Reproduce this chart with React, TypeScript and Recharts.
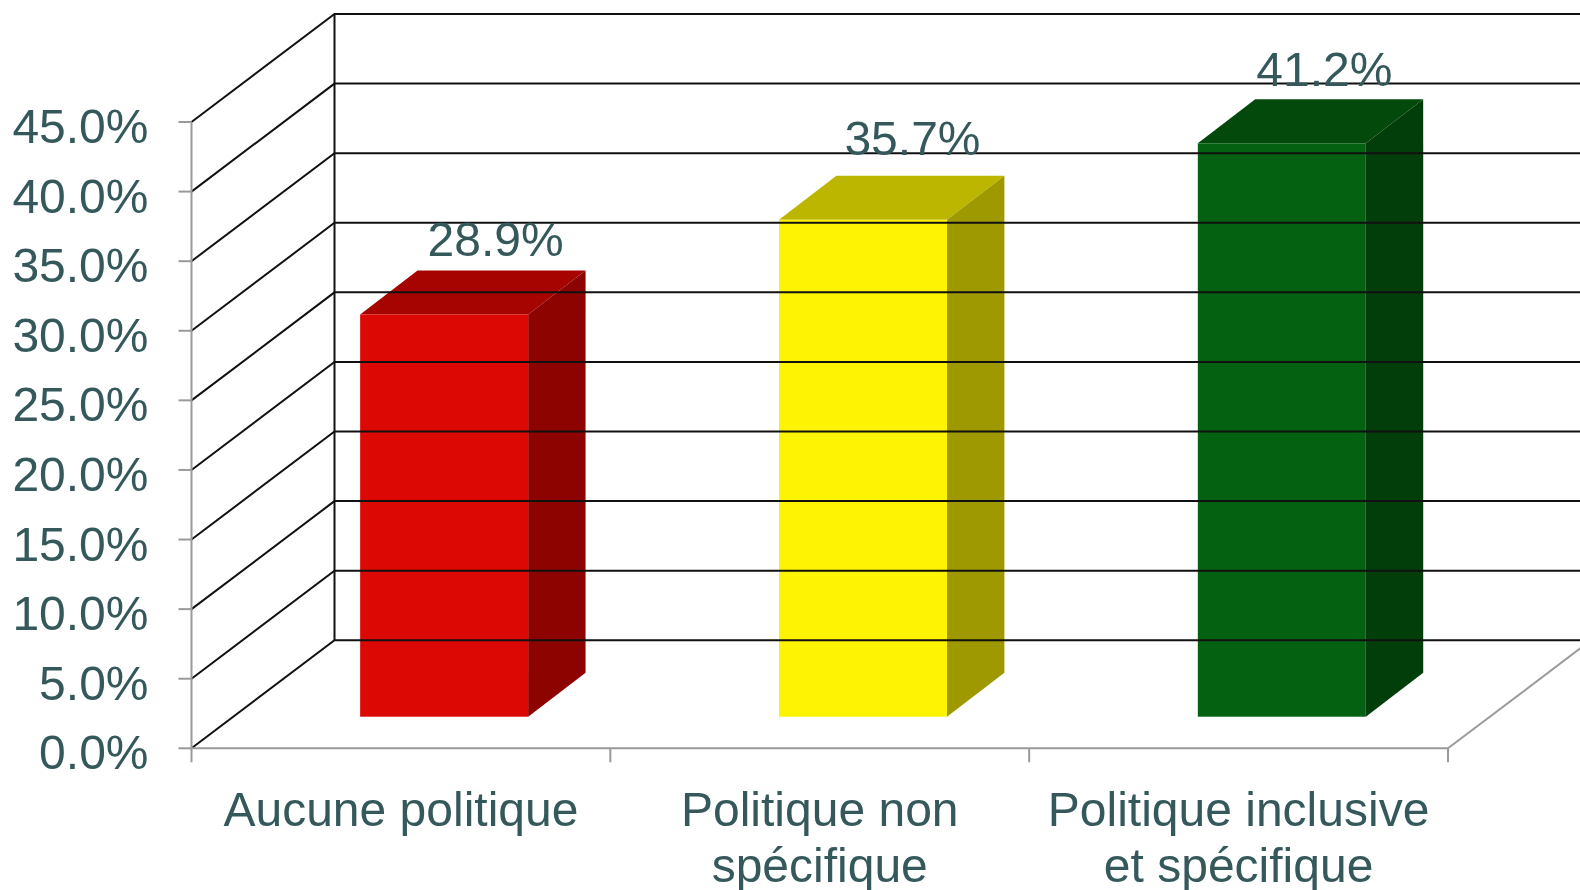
import { Bar, BarChart, Cell, LabelList, ReferenceArea, ReferenceLine, XAxis, YAxis } from "recharts"

const categories = ["Aucune politique", "Politique non spécifique", "Politique inclusive et spécifique"]
const categoryLines = [["Aucune politique"], ["Politique non", "spécifique"], ["Politique inclusive", "et spécifique"]]
const values = [28.9, 35.7, 41.2]
const yTicks = [0, 5, 10, 15, 20, 25, 30, 35, 40, 45]

const frontColors = ["#dc0803", "#fdf303", "#046111"]
const topColors = ["#a60400", "#bdb600", "#03490c"]
const sideColors = ["#8c0300", "#9f9900", "#023e0a"]

const chartData = categories.map((name, i) => ({ name, value: values[i] }))

const WIDTH = 1580
const HEIGHT = 890
const MARGIN = { top: 122, right: 132, bottom: 0, left: 0 }
const Y_AXIS_WIDTH = 191.5
const X_AXIS_HEIGHT = 141.7
const PLOT_WIDTH = WIDTH - Y_AXIS_WIDTH - MARGIN.right

// depth of the floor and walls
const DEPTH_X = 143
const DEPTH_Y = -108
// bars stand partway into the floor, and have their own depth
const BAR_SHIFT_X = 43
const BAR_SHIFT_Y = -31.6
const BAR_DEPTH_X = 57.4
const BAR_DEPTH_Y = -44

// value labels were placed by hand in the original
const LABEL_NUDGE_X = [51.5, 49.5, 42.5]
const LABEL_NUDGE_Y = [-58.5, -64.5, -57.7]

const TEXT_COLOR = "#35595b"
const AXIS_COLOR = "#9a9a9a"
const GRID_COLOR = "#111111"
const FONT = "'Liberation Sans', Arial, sans-serif"

const DepthGridLine = ({ x1, y1 }: any) => (
  <path
    d={`M${x1} ${y1} L${x1 + DEPTH_X} ${y1 + DEPTH_Y} L${WIDTH} ${y1 + DEPTH_Y}`}
    fill="none"
    stroke={GRID_COLOR}
    strokeWidth={2}
  />
)

const BackWall = ({ x, y, width, height }: any) => (
  <g fill="none">
    <line
      x1={x + DEPTH_X}
      y1={y + DEPTH_Y}
      x2={x + DEPTH_X}
      y2={y + height + DEPTH_Y}
      stroke={GRID_COLOR}
      strokeWidth={2}
    />
    <line
      x1={x + width}
      y1={y + height}
      x2={x + width + DEPTH_X}
      y2={y + height + DEPTH_Y}
      stroke={AXIS_COLOR}
      strokeWidth={2}
    />
  </g>
)

const Bar3D = ({ x, y, width, height, index }: any) => {
  const left = x + BAR_SHIFT_X
  const right = left + width
  const top = y + BAR_SHIFT_Y
  const bottom = top + height
  return (
    <g>
      <polygon
        points={`${left},${top} ${left + BAR_DEPTH_X},${top + BAR_DEPTH_Y} ${right + BAR_DEPTH_X},${top + BAR_DEPTH_Y} ${right},${top}`}
        fill={topColors[index]}
      />
      <polygon
        points={`${right},${top} ${right + BAR_DEPTH_X},${top + BAR_DEPTH_Y} ${right + BAR_DEPTH_X},${bottom + BAR_DEPTH_Y} ${right},${bottom}`}
        fill={sideColors[index]}
      />
      <rect x={left} y={top} width={width} height={height} fill={frontColors[index]} />
    </g>
  )
}

const BarValueLabel = ({ x, y, width, value, index }: any) => (
  <text
    x={x + width / 2 + BAR_SHIFT_X + LABEL_NUDGE_X[index]}
    y={y + BAR_SHIFT_Y + LABEL_NUDGE_Y[index]}
    textAnchor="middle"
    fill={TEXT_COLOR}
    fontFamily={FONT}
    fontSize={48}
  >
    {`${Number(value).toFixed(1)}%`}
  </text>
)

const YTick = ({ x, y, payload }: any) => (
  <text x={x - 28} y={y + 21} textAnchor="end" fill={TEXT_COLOR} fontFamily={FONT} fontSize={48}>
    {`${Number(payload.value).toFixed(1)}%`}
  </text>
)

const XTick = ({ x, index }: any) => {
  const band = PLOT_WIDTH / categories.length
  const axisY = HEIGHT - X_AXIS_HEIGHT
  const lines = categoryLines[index]
  return (
    <g>
      <line x1={x - band / 2} y1={axisY} x2={x - band / 2} y2={axisY + 14} stroke={AXIS_COLOR} strokeWidth={2} />
      {index === categories.length - 1 && (
        <line x1={x + band / 2} y1={axisY} x2={x + band / 2} y2={axisY + 14} stroke={AXIS_COLOR} strokeWidth={2} />
      )}
      {lines.map((line: string, i: number) => (
        <text
          key={line}
          x={x}
          y={axisY + 78 + i * 55.7}
          textAnchor="middle"
          fill={TEXT_COLOR}
          fontFamily={FONT}
          fontSize={48}
        >
          {line}
        </text>
      ))}
    </g>
  )
}

export default function App() {
  return (
    <div
      style={{
        position: "absolute",
        left: 0,
        top: 0,
        width: WIDTH,
        height: HEIGHT,
        background: "#fff",
        filter: "blur(0.6px)",
      }}
    >
      <BarChart width={WIDTH} height={HEIGHT} data={chartData} margin={MARGIN} barCategoryGap="30%">
        <ReferenceArea y1={0} y2={45} shape={BackWall} ifOverflow="visible" />
        {yTicks.map((t) => (
          <ReferenceLine key={t} y={t} shape={DepthGridLine} ifOverflow="visible" />
        ))}
        <XAxis
          dataKey="name"
          interval={0}
          axisLine={{ stroke: AXIS_COLOR, strokeWidth: 2 }}
          tickLine={false}
          tick={XTick}
          height={X_AXIS_HEIGHT}
        />
        <YAxis
          domain={[0, 45]}
          ticks={yTicks}
          interval={0}
          width={Y_AXIS_WIDTH}
          axisLine={{ stroke: AXIS_COLOR, strokeWidth: 2 }}
          tickLine={{ stroke: AXIS_COLOR, strokeWidth: 2 }}
          tickSize={13}
          tick={YTick}
        />
        <Bar dataKey="value" shape={Bar3D} isAnimationActive={false}>
          {chartData.map((d, i) => (
            <Cell key={d.name} fill={frontColors[i]} />
          ))}
          <LabelList dataKey="value" content={BarValueLabel} />
        </Bar>
      </BarChart>
    </div>
  )
}
